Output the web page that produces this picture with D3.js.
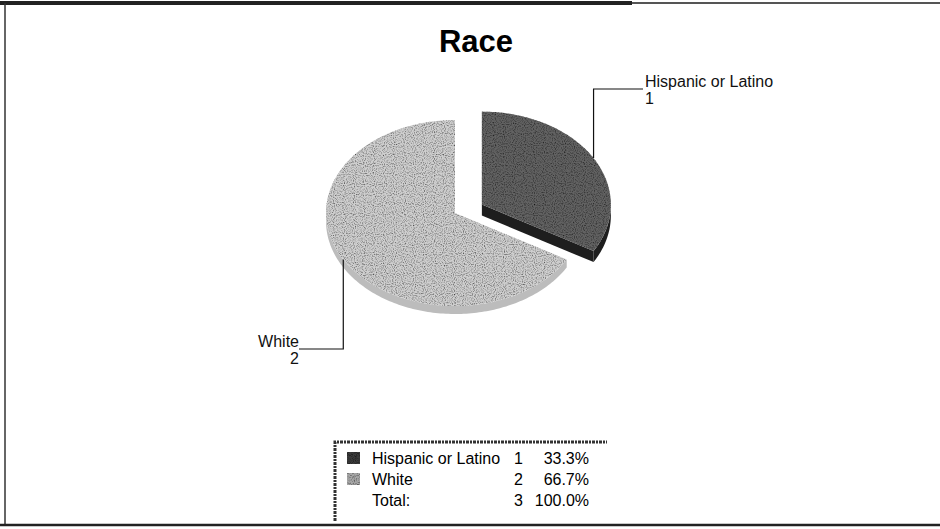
<!DOCTYPE html>
<html>
<head>
<meta charset="utf-8">
<script src="https://cdn.jsdelivr.net/npm/d3@7"></script>
<style>
  body { margin: 0; background: #fff; }
  svg { display: block; font-family: "Liberation Sans", Arial, sans-serif; }
</style>
</head>
<body>
<div id="chart"></div>
<script>
// chart data
const title = "Race";
const categories = ["Hispanic or Latino", "White"];
const counts = [1, 2];
const percents = ["33.3%", "66.7%"];
const totalLabel = "Total:";
const totalCount = 3;
const totalPercent = "100.0%";

const width = 940;
const height = 529;

const svg = d3.select("#chart")
  .append("svg")
  .attr("width", width)
  .attr("height", height);

// frame
svg.append("line").attr("x1", 0).attr("x2", 632).attr("y1", 3).attr("y2", 3)
  .attr("stroke", "#222").attr("stroke-width", 4);
svg.append("line").attr("x1", 632).attr("x2", 940).attr("y1", 3).attr("y2", 3)
  .attr("stroke", "#555").attr("stroke-width", 2);
svg.append("line").attr("x1", 5).attr("x2", 5).attr("y1", 3).attr("y2", 526)
  .attr("stroke", "#333").attr("stroke-width", 1.5);
svg.append("line").attr("x1", 0).attr("x2", 940).attr("y1", 525).attr("y2", 525)
  .attr("stroke", "#222").attr("stroke-width", 2.5);

// title
svg.append("text")
  .attr("x", 476).attr("y", 52)
  .attr("text-anchor", "middle")
  .style("font-size", "31px")
  .style("font-weight", "bold")
  .text(title);

// texture filter to mimic the scanned dither
const defs = svg.append("defs");
const noise = defs.append("filter").attr("id", "grain")
  .attr("x", 0).attr("y", 0).attr("width", 1).attr("height", 1);
noise.append("feTurbulence").attr("type", "fractalNoise")
  .attr("baseFrequency", 0.9).attr("numOctaves", 1).attr("seed", 3).attr("result", "t");
noise.append("feColorMatrix").attr("in", "t").attr("type", "matrix")
  .attr("values", "0 0 0 0 0  0 0 0 0 0  0 0 0 0 0  0 0 0 -2.2 1.25")
  .attr("result", "dots");
noise.append("feComposite").attr("in", "dots").attr("in2", "SourceGraphic")
  .attr("operator", "in").attr("result", "clipped");
noise.append("feMerge").selectAll("feMergeNode")
  .data(["SourceGraphic", "clipped"]).join("feMergeNode").attr("in", d => d);

// 3D pie
const cx = 455, cy = 213;
const rx = d3.scaleLinear().domain([0, 1]).range([0, 129]);
const ry = d3.scaleLinear().domain([0, 1]).range([0, 93]);
const depth = [11, 8];
const explode = [31, 0];

const pie = d3.pie().sort(null).value(d => d)(counts);

const topColors = ["#626262", "#cfcfcf"];
const sideColors = ["#1e1e1e", "#bcbcbc"];

function pt(a, ox, oy, dy = 0) {
  return [ox + rx(Math.sin(a)), oy - ry(Math.cos(a)) + dy];
}

function arcPts(a0, a1, ox, oy, dy = 0) {
  const n = Math.max(2, Math.ceil((a1 - a0) / 0.02));
  return d3.range(n + 1).map(i => pt(a0 + (a1 - a0) * i / n, ox, oy, dy));
}

const line = d3.line();

const slices = pie.map((p, i) => {
  const mid = (p.startAngle + p.endAngle) / 2;
  const ox = cx + explode[i] * Math.sin(mid);
  const oy = cy - explode[i] * Math.cos(mid) * 93 / 129 * 0.75;
  return { p, i, mid, ox, oy };
});

const pieG = svg.append("g");

// white first, then exploded slice on top
[1, 0].forEach(k => {
  const s = slices[k];
  const { p, ox, oy } = s;
  const g = pieG.append("g");

  // outer wall on the front half (between PI/2 and 3PI/2)
  const w0 = Math.max(p.startAngle, Math.PI / 2);
  const w1 = Math.min(p.endAngle, 3 * Math.PI / 2);
  if (w1 > w0) {
    const top = arcPts(w0, w1, ox, oy);
    const bot = arcPts(w0, w1, ox, oy, depth[k]).reverse();
    g.append("path").attr("d", line(top.concat(bot)) + "Z")
      .attr("fill", sideColors[k]);
  }

  // radial cut face at end angle when exploded (faces the viewer)
  if (explode[k] > 0) {
    const e = pt(p.endAngle, ox, oy);
    const face = [[ox, oy], e, [e[0], e[1] + depth[k]], [ox, oy + depth[k]]];
    g.append("path").attr("d", line(face) + "Z").attr("fill", sideColors[k]);
  }

  // top face
  const topPts = [[ox, oy]].concat(arcPts(p.startAngle, p.endAngle, ox, oy));
  g.append("path").attr("d", line(topPts) + "Z")
    .attr("fill", topColors[k])
    .attr("filter", "url(#grain)");
});

// leader lines and labels
const labelPos = [
  { x: 645, y: 89, anchor: "start" },
  { x: 299, y: 349, anchor: "end" }
];

slices.forEach((s, i) => {
  const a = pt(s.mid, s.ox, s.oy);
  const lp = labelPos[i];
  const lx = lp.anchor === "start" ? lp.x - 2 : lp.x;
  svg.append("path")
    .attr("d", line([a, [a[0], lp.y], [lx, lp.y]]))
    .attr("fill", "none")
    .attr("stroke", "#111")
    .attr("stroke-width", 1.2);
  const t = svg.append("text")
    .attr("text-anchor", lp.anchor)
    .style("font-size", "16px")
    .attr("fill", "#111");
  t.append("tspan").attr("x", lp.x).attr("y", lp.y - 2).text(categories[i]);
  t.append("tspan").attr("x", lp.x).attr("y", lp.y + 15).text(counts[i]);
});

// legend
const leg = svg.append("g");
leg.append("path")
  .attr("d", "M335,521 V442 H607")
  .attr("fill", "none")
  .attr("stroke", "#333")
  .attr("stroke-width", 3)
  .attr("stroke-dasharray", "3 1 2 1");

const rows = categories.map((c, i) => ({ name: c, n: counts[i], pct: percents[i], color: topColors[i] }))
  .concat([{ name: totalLabel, n: totalCount, pct: totalPercent, color: null }]);

const rowY = d3.scalePoint().domain(d3.range(rows.length)).range([464, 506]);

rows.forEach((r, i) => {
  const y = rowY(i);
  if (r.color) {
    leg.append("rect")
      .attr("x", 347).attr("y", y - 12).attr("width", 13).attr("height", 12)
      .attr("fill", i === 0 ? "#3a3a3a" : "#a8a8a8")
      .attr("filter", "url(#grain)");
  }
  leg.append("text").attr("x", 372).attr("y", y)
    .style("font-size", "16px").text(r.name);
  leg.append("text").attr("x", 523).attr("y", y).attr("text-anchor", "end")
    .style("font-size", "16px").text(r.n);
  leg.append("text").attr("x", 589).attr("y", y).attr("text-anchor", "end")
    .style("font-size", "16px").text(r.pct);
});
</script>
</body>
</html>
